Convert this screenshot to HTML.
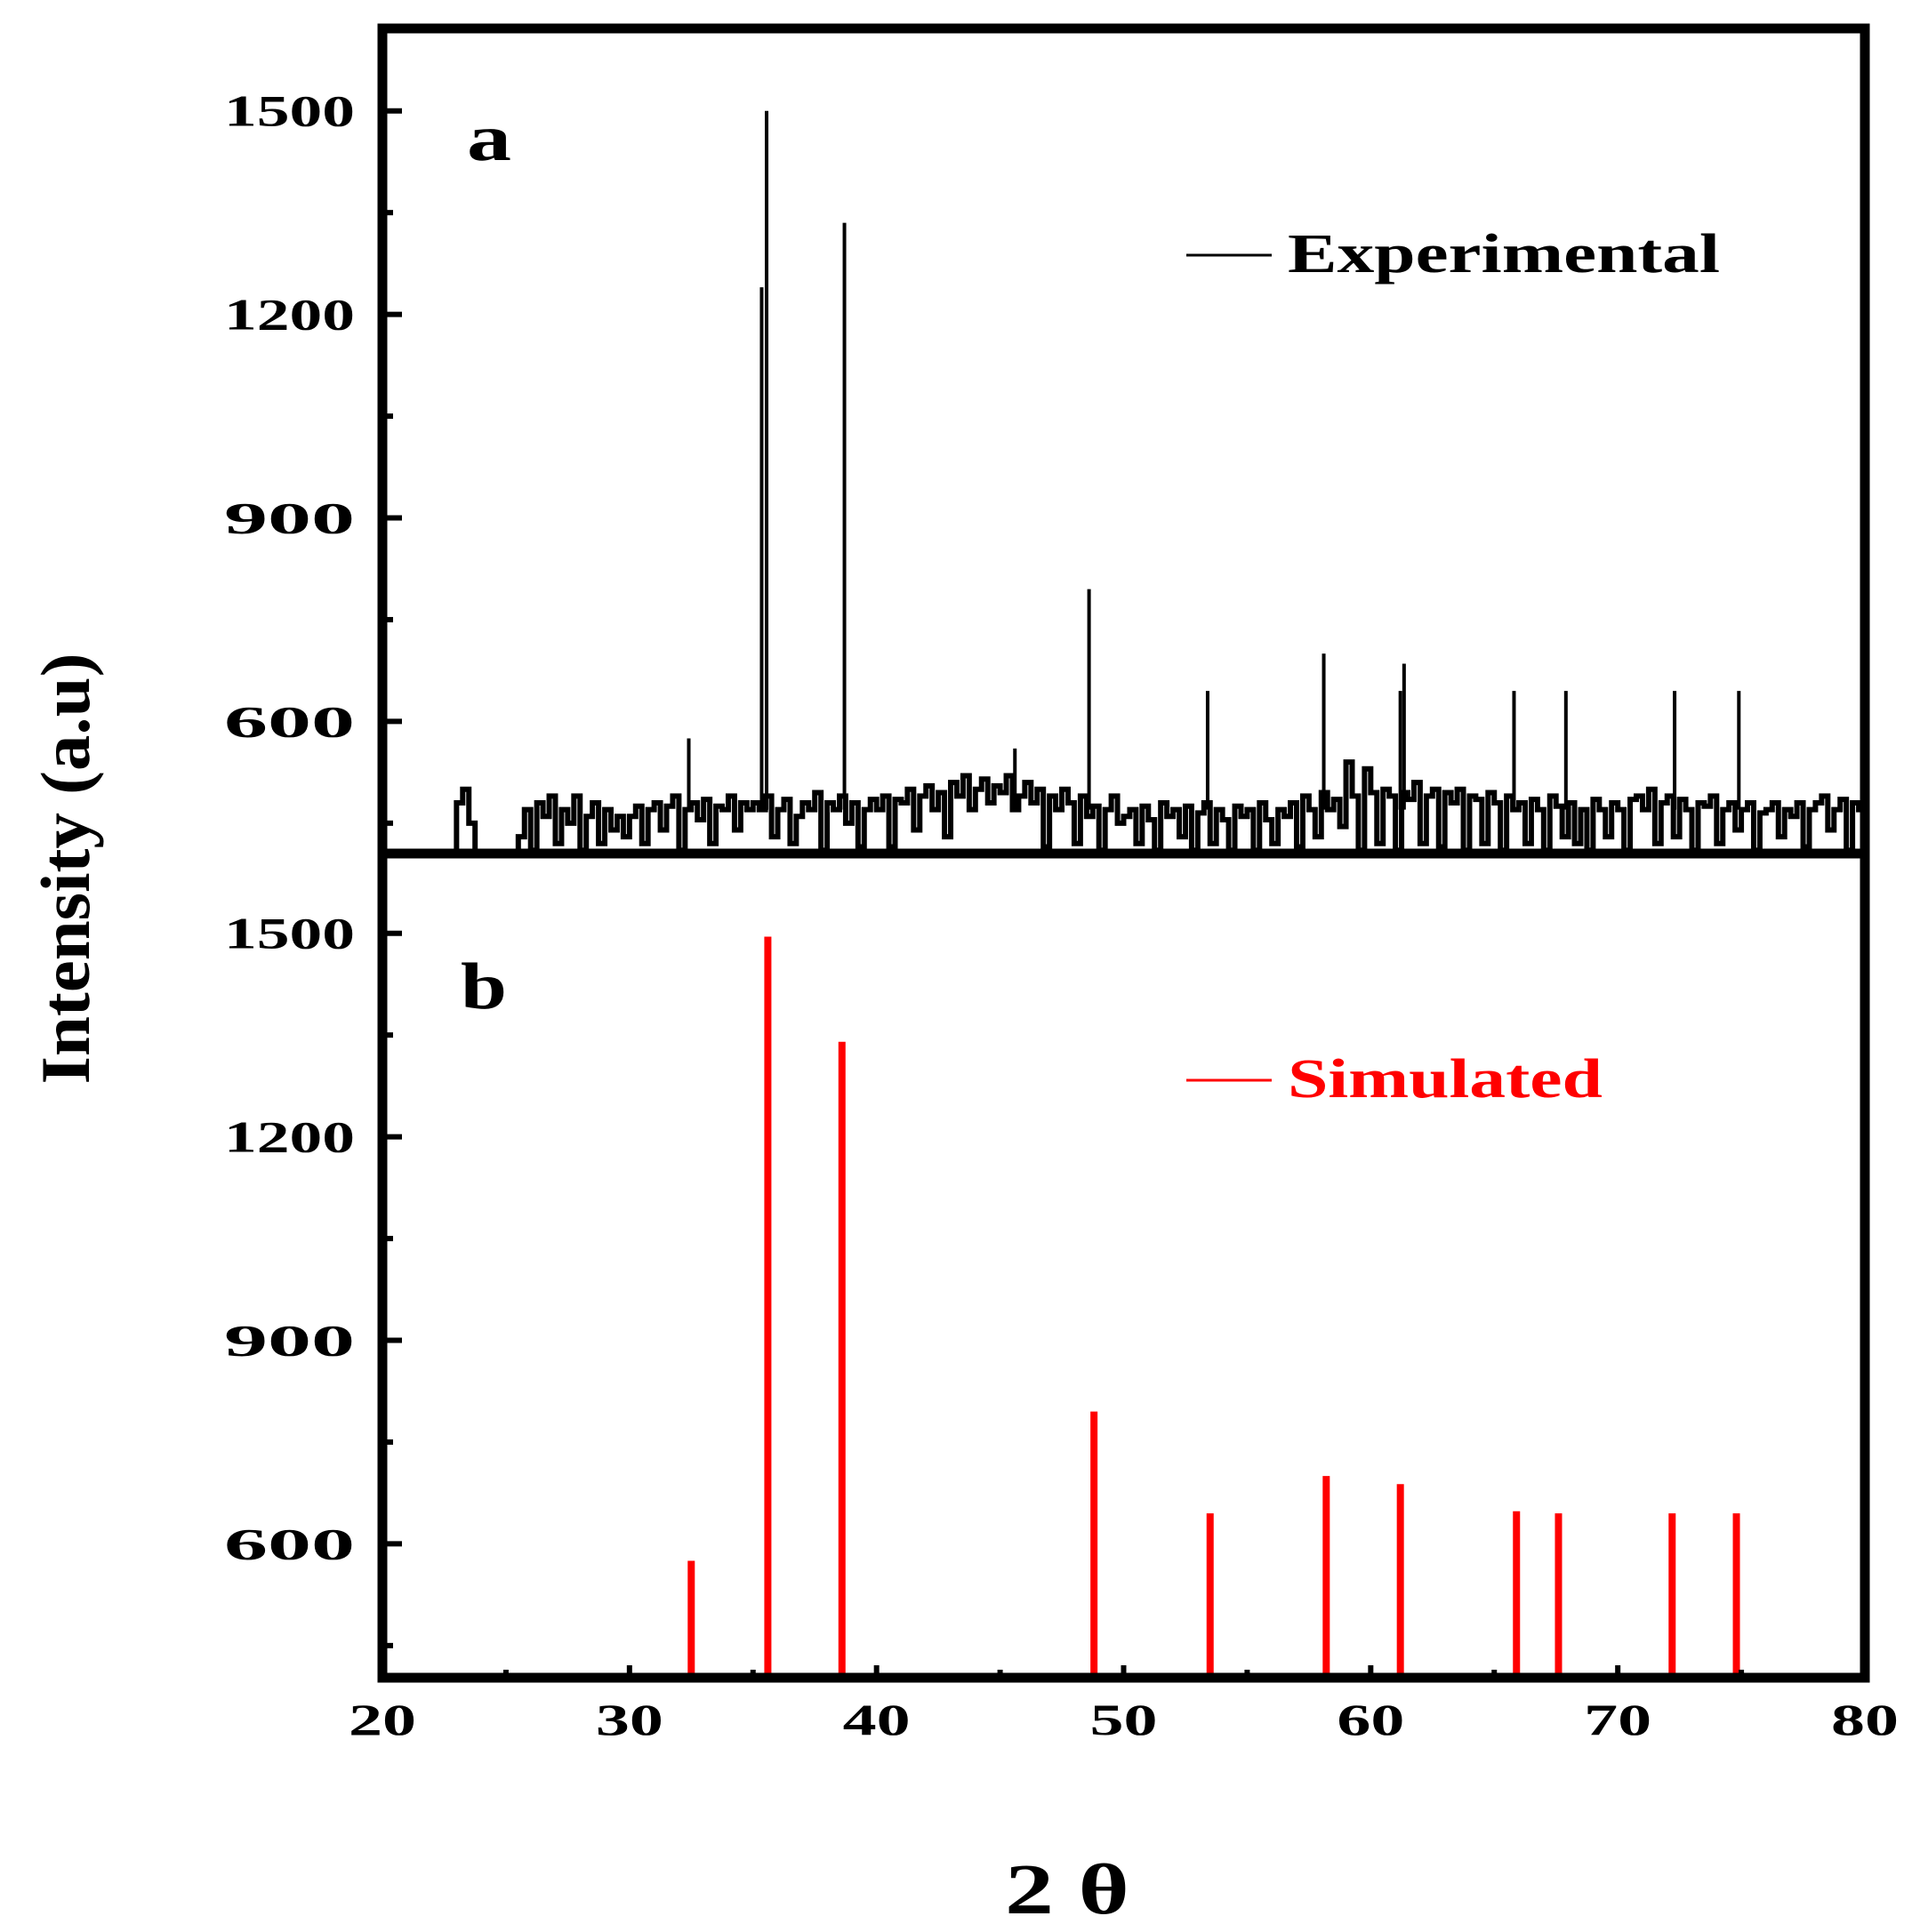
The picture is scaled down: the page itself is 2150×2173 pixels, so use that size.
<!DOCTYPE html>
<html><head><meta charset="utf-8"><style>
html,body{margin:0;padding:0;background:#fff;}
svg{display:block;}
text{font-family:"Liberation Serif",serif;font-weight:bold;fill:#000;}
</style></head><body>
<svg id="chart" width="2150" height="2173" viewBox="0 0 2150 2173" xmlns="http://www.w3.org/2000/svg">
<g id="plot"></g>
</svg>
<script>
// ---- data ----
const xTicks = [20, 30, 40, 50, 60, 70, 80];
const yTicks = [600, 900, 1200, 1500];
const noiseStart = 22.75;
const noiseStep = 0.25;
const noiseValues = [405,480,500,450,405,405,405,405,405,405,405,
430,470,410,480,460,490,420,470,450,490,410,460,480,420,470,440,460,430,
460,475,420,470,480,440,475,490,410,470,480,455,485,420,475,470,490,440,480,470,
480,470,490,430,470,485,420,460,480,470,495,410,480,470,490,450,480,415,470,485,
470,490,415,485,480,500,440,490,505,470,495,430,510,490,520,470,500,515,480,505,
495,520,470,490,510,480,500,415,490,470,500,480,420,490,460,475,410,470,490,450,
460,470,420,475,455,410,480,460,470,430,475,410,465,480,420,470,455,410,475,460,
470,410,480,455,420,470,460,480,415,490,470,430,495,470,485,445,540,490,410,530,
495,420,500,490,410,495,485,510,420,490,500,415,495,480,500,410,490,485,420,495,
480,410,490,470,480,420,485,470,410,490,475,430,480,420,470,410,485,470,430,480,
470,410,485,490,470,500,420,480,490,430,485,470,410,480,475,490,420,470,480,440,
470,480,410,465,470,480,430,470,460,480,415,470,480,490,440,470,485,410,480,470,475];
const expPeakPos = [32.4, 35.35, 35.55, 38.7, 45.6, 48.6, 53.4, 58.1, 61.2, 61.35, 65.8, 67.9, 72.3, 74.9];
const expPeakVal = [575, 1240, 1500, 1335, 560, 795, 645, 700, 645, 685, 645, 645, 645, 645];
const simPos = [32.5, 35.6, 38.6, 48.8, 53.5, 58.2, 61.2, 65.9, 67.6, 72.2, 74.8];
const simVal = [575, 1495, 1340, 795, 645, 700, 688, 648, 645, 645, 645];

// ---- geometry ----
const L = 430, R = 2097;
const xs = v => L + (v - 20) * (R - L) / 60;
const ka = 0.763;
const yA = v => 964 - (v - 400) * ka;
const yB = v => 1889 - (v - 400) * ka;
const NS = "http://www.w3.org/2000/svg";
const g = document.getElementById('plot');
function mk(tag, attrs, parent) {
  const e = document.createElementNS(NS, tag);
  for (const k in attrs) e.setAttribute(k, attrs[k]);
  (parent || g).appendChild(e);
  return e;
}

// experimental noise (step line)
let d = `M${xs(20)},${yA(405)} L${xs(noiseStart)},${yA(405)}`;
noiseValues.forEach((v, i) => {
  const x0 = xs(noiseStart + i * noiseStep), x1 = xs(noiseStart + (i + 1) * noiseStep);
  d += ` L${x0},${yA(v)} L${Math.min(x1, R)},${yA(v)}`;
});
const noise = mk('path', {d: d, fill: 'none', stroke: '#000', 'stroke-width': 6});



expPeakPos.forEach((p, i) => {
  const ln = mk('line', {x1: xs(p), x2: xs(p), y1: yA(470), y2: yA(expPeakVal[i]), stroke: '#000', 'stroke-width': 4});
  
  
});

simPos.forEach((p, i) => {
  const ln = mk('line', {x1: xs(p), x2: xs(p), y1: yB(400), y2: yB(simVal[i]), stroke: '#ff0000', 'stroke-width': 8});
  
  
});

// frames
const fr = mk('path', {d: `M${L},32 H${R} V1887 H${L} Z M${L},960 H${R}`, fill: 'none', stroke: '#000', 'stroke-width': 11});



// y ticks and labels, both panels
[[yA, 'a'], [yB, 'b']].forEach(([yf, nm]) => {
  for (let v = 450; v <= 1600; v += 150) {
    const major = yTicks.includes(v);
    const t = mk('line', {x1: L, x2: L + (major ? 22 : 12), y1: yf(v), y2: yf(v), stroke: '#000', 'stroke-width': 6});
    
    
  }
  yTicks.forEach(v => {
    const tx = mk('text', {x: 399, y: yf(v) + 17, 'text-anchor': 'end', 'font-size': 50, textLength: 147, lengthAdjust: 'spacingAndGlyphs'});
    tx.textContent = v;
    
    
  });
});

// x ticks
for (let v = 25; v < 80; v += 5) {
  const t = mk('line', {x1: xs(v), x2: xs(v), y1: 1887, y2: 1887 - (v % 10 === 0 ? 14 : 9), stroke: '#000', 'stroke-width': 6});
  
  
}
xTicks.forEach(v => {
  const tx = mk('text', {x: xs(v), y: 1951, 'text-anchor': 'middle', 'font-size': 50, textLength: 76, lengthAdjust: 'spacingAndGlyphs'});
  tx.textContent = v;
  
  
});

// legend lines
const l1 = mk('line', {x1: 1334, x2: 1430, y1: 287, y2: 287, stroke: '#000', 'stroke-width': 3});


const l2 = mk('line', {x1: 1334, x2: 1430, y1: 1215, y2: 1215, stroke: '#ff0000', 'stroke-width': 3});


</script>
<svg style="position:absolute;left:0;top:0" width="2150" height="2173">
<text x="1448" y="306" font-size="62" textLength="486" lengthAdjust="spacingAndGlyphs">Experimental</text>
<text x="1448" y="1234" font-size="62" textLength="354" lengthAdjust="spacingAndGlyphs" style="fill:#ff0000">Simulated</text>
<text x="525" y="180" font-size="74" textLength="50" lengthAdjust="spacingAndGlyphs">a</text>
<text x="518" y="1134" font-size="74" textLength="52" lengthAdjust="spacingAndGlyphs">b</text>
<text transform="translate(100,977) rotate(-90)" x="0" y="0" text-anchor="middle" font-size="78" textLength="485" lengthAdjust="spacingAndGlyphs">Intensity (a.u)</text>
<text x="1200" y="2152" text-anchor="middle" font-size="80" textLength="140" lengthAdjust="spacingAndGlyphs">2 θ</text>
</svg>
</body></html>
